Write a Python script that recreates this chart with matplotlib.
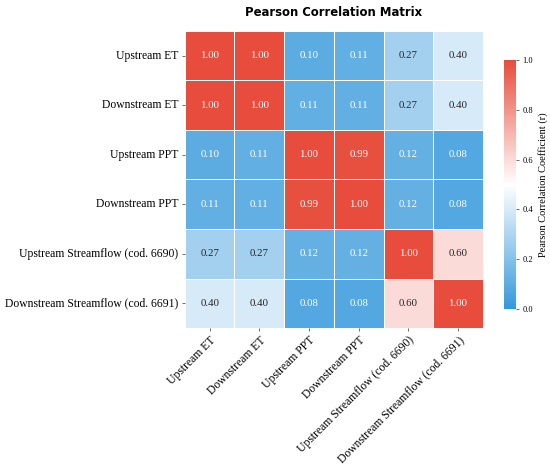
import numpy as np
import matplotlib
matplotlib.use('Agg')
from matplotlib import pyplot as plt
from matplotlib.colors import LinearSegmentedColormap
import seaborn as sns

labels = ['Upstream ET', 'Downstream ET', 'Upstream PPT', 'Downstream PPT',
          'Upstream Streamflow (cod. 6690)', 'Downstream Streamflow (cod. 6691)']

row_up_et = [1.00, 1.00, 0.10, 0.11, 0.27, 0.40]
row_down_et = [1.00, 1.00, 0.11, 0.11, 0.27, 0.40]
row_up_ppt = [0.10, 0.11, 1.00, 0.99, 0.12, 0.08]
row_down_ppt = [0.11, 0.11, 0.99, 1.00, 0.12, 0.08]
row_up_q = [0.27, 0.27, 0.12, 0.12, 1.00, 0.60]
row_down_q = [0.40, 0.40, 0.08, 0.08, 0.60, 1.00]

corr = np.array([row_up_et, row_down_et, row_up_ppt, row_down_ppt, row_up_q, row_down_q])

plt.rcParams['font.family'] = ['Liberation Serif', 'DejaVu Serif']

cmap = LinearSegmentedColormap.from_list('bwr_flat', ['#3498db', '#ffffff', '#e74c3c'])

fig = plt.figure(figsize=(5.5, 4.69), dpi=100)
ax = fig.add_axes([0.336, 0.3006, 0.542, 0.6334])
cax = fig.add_axes([0.916, 0.341, 0.022, 0.531])

sns.heatmap(corr, ax=ax, cbar_ax=cax, cmap=cmap, vmin=0, vmax=1, center=0.5,
            annot=True, fmt='.2f', annot_kws={'fontsize': 7.8},
            linewidths=0.7, linecolor='white',
            xticklabels=labels, yticklabels=labels,
            cbar_kws={'label': 'Pearson Correlation Coefficient (r)'})

ax.set_title('Pearson Correlation Matrix', fontsize=8.4, fontweight='bold',
             family='DejaVu Sans', pad=11)
ax.tick_params(axis='both', labelsize=8.4, length=2.5, width=0.6, color='#555555', pad=2)
plt.setp(ax.get_xticklabels(), rotation=45, ha='right', rotation_mode='anchor')
plt.setp(ax.get_yticklabels(), rotation=0)

cax.tick_params(labelsize=6, length=2.5, width=0.6, color='#555555', pad=2)
cax.yaxis.label.set_size(7.5)
cax.set_yticks([0.0, 0.2, 0.4, 0.6, 0.8, 1.0])
cax.set_yticklabels(['0.0', '0.2', '0.4', '0.6', '0.8', '1.0'])
for s in cax.spines.values():
    s.set_visible(False)

fig.savefig('out.png', dpi=100)
